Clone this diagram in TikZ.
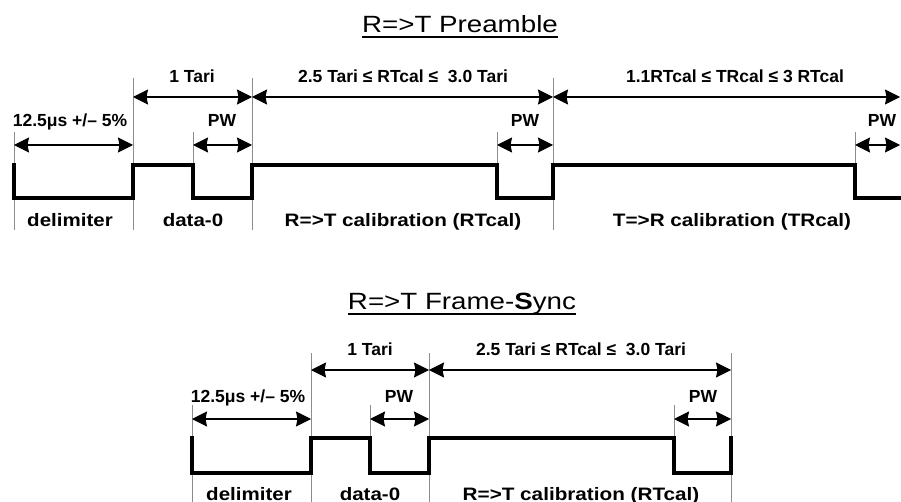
\documentclass[tikz,border=0pt]{standalone}
\usepackage{fontspec}
\setmainfont{Liberation Sans}
\usetikzlibrary{arrows.meta}
\begin{document}
\begin{tikzpicture}[x=1pt,y=-1pt,
  sig/.style={line width=4pt, line cap=rect, line join=miter},
  guide/.style={draw=black!45, line width=0.9pt},
  dim/.style={line width=1.1pt, {Stealth[length=15pt,width=15pt,inset=1.5pt]}-{Stealth[length=15pt,width=15pt,inset=1.5pt]}},
  lab/.style={inner sep=0pt, anchor=base, font=\fontsize{17.5}{17.5}\selectfont\bfseries},
  caplab/.style={inner sep=0pt, anchor=base, font=\fontsize{18}{18}\selectfont\bfseries},
  ttl/.style={inner sep=0pt, anchor=base, font=\fontsize{23.5}{23.5}\selectfont},
  uline/.style={line width=2pt}]
\useasboundingbox (0,0) rectangle (901,502);
\fill[white] (0,0) rectangle (901,502);

% ---------------- top: R=>T Preamble ----------------
\coordinate (pa) at (14,0);
\coordinate (pb) at (133,0);
\coordinate (pc) at (193,0);
\coordinate (pd) at (252,0);
\coordinate (pe) at (497,0);
\coordinate (pf) at (553,0);
\coordinate (pg) at (855,0);
\coordinate (ph) at (900,0);
\coordinate (pz) at (903,0);
\coordinate (tA) at (0,97);
\coordinate (tB) at (0,145);
\coordinate (tHi) at (0,165);
\coordinate (tLo) at (0,198);
\coordinate (tGt) at (0,78);
\coordinate (tGm) at (0,132);
\coordinate (tGb) at (0,230);

\node[ttl] (t1) at (460,33) {\scalebox{1.18}[1]{R=>T Preamble}};
\draw[uline] ([yshift=-4pt]t1.base west) -- ([yshift=-4pt]t1.base east);

\draw[guide] (pa |- tGm) -- (pa |- tGb);
\draw[guide] (pb |- tGt) -- (pb |- tGb);
\draw[guide] (pc |- tGm) -- (pc |- tHi);
\draw[guide] (pd |- tGt) -- (pd |- tGb);
\draw[guide] (pe |- tGm) -- (pe |- tHi);
\draw[guide] (pf |- tGt) -- (pf |- tGb);
\draw[guide] (pg |- tGm) -- (pg |- tHi);

\draw[sig] (pa |- tHi) -- (pa |- tLo) -- (pb |- tLo) -- (pb |- tHi) -- (pc |- tHi)
  -- (pc |- tLo) -- (pd |- tLo) -- (pd |- tHi) -- (pe |- tHi) -- (pe |- tLo)
  -- (pf |- tLo) -- (pf |- tHi) -- (pg |- tHi) -- (pg |- tLo) -- (pz |- tLo);

\draw[dim] (pb |- tA) -- (pd |- tA);
\draw[dim] (pd |- tA) -- (pf |- tA);
\draw[dim] (pf |- tA) -- (ph |- tA);
\draw[dim] (pa |- tB) -- (pb |- tB);
\draw[dim] (pc |- tB) -- (pd |- tB);
\draw[dim] (pe |- tB) -- (pf |- tB);
\draw[dim] (pg |- tB) -- (ph |- tB);

\node[lab] (l1) at (192,83) {1 Tari};
\node[lab] (l2) at (403,83) {2.5 Tari ≤ RTcal ≤\ \ 3.0 Tari};
\node[lab] (l3) at (735,83) {1.1RTcal ≤ TRcal ≤ 3 RTcal};
\node[lab] (l4) at (70,127) {12.5μs +/– 5\%};
\node[lab] (l5) at (222,127) {PW};
\node[lab] (l6) at (525,127) {PW};
\node[lab] (l7) at (882,127) {PW};
\node[caplab] (c1) at (70,227) {\scalebox{1.14}[1]{delimiter}};
\node[caplab] (c2) at (193,227) {\scalebox{1.14}[1]{data-0}};
\node[caplab] (c3) at (403,227) {\scalebox{1.15}[1]{R=>T calibration (RTcal)}};
\node[caplab] (c4) at (732,227) {\scalebox{1.15}[1]{T=>R calibration (TRcal)}};

% ---------------- bottom: R=>T Frame-Sync ----------------
\coordinate (qa) at (192,0);
\coordinate (qb) at (311,0);
\coordinate (qc) at (370,0);
\coordinate (qd) at (429,0);
\coordinate (qe) at (674,0);
\coordinate (qf) at (731,0);
\coordinate (bA) at (0,370);
\coordinate (bB) at (0,419);
\coordinate (bHi) at (0,438);
\coordinate (bLo) at (0,473);
\coordinate (bGt) at (0,353);
\coordinate (bGm) at (0,405);
\coordinate (bGb) at (0,502);

\node[ttl] (t2) at (462,309) {\scalebox{1.18}[1]{R=>T Frame-\textbf{S}ync}};
\draw[uline] ([yshift=-5pt]t2.base west) -- ([yshift=-5pt]t2.base east);

\draw[guide] (qa |- bGm) -- (qa |- bGb);
\draw[guide] (qb |- bGt) -- (qb |- bGb);
\draw[guide] (qc |- bGm) -- (qc |- bHi);
\draw[guide] (qd |- bGt) -- (qd |- bGb);
\draw[guide] (qe |- bGm) -- (qe |- bHi);
\draw[guide] (qf |- bGt) -- (qf |- bGb);

\draw[sig] (qa |- bHi) -- (qa |- bLo) -- (qb |- bLo) -- (qb |- bHi) -- (qc |- bHi)
  -- (qc |- bLo) -- (qd |- bLo) -- (qd |- bHi) -- (qe |- bHi) -- (qe |- bLo)
  -- (qf |- bLo) -- (qf |- bHi);

\draw[dim] (qb |- bA) -- (qd |- bA);
\draw[dim] (qd |- bA) -- (qf |- bA);
\draw[dim] (qa |- bB) -- (qb |- bB);
\draw[dim] (qc |- bB) -- (qd |- bB);
\draw[dim] (qe |- bB) -- (qf |- bB);

\node[lab] (m1) at (370,355) {1 Tari};
\node[lab] (m2) at (581,355) {2.5 Tari ≤ RTcal ≤\ \ 3.0 Tari};
\node[lab] (m3) at (248,402) {12.5μs +/– 5\%};
\node[lab] (m4) at (399,402) {PW};
\node[lab] (m5) at (703,402) {PW};
\node[caplab] (d1) at (249,500) {\scalebox{1.14}[1]{delimiter}};
\node[caplab] (d2) at (370,500) {\scalebox{1.14}[1]{data-0}};
\node[caplab] (d3) at (581,500) {\scalebox{1.15}[1]{R=>T calibration (RTcal)}};
\end{tikzpicture}
\end{document}
